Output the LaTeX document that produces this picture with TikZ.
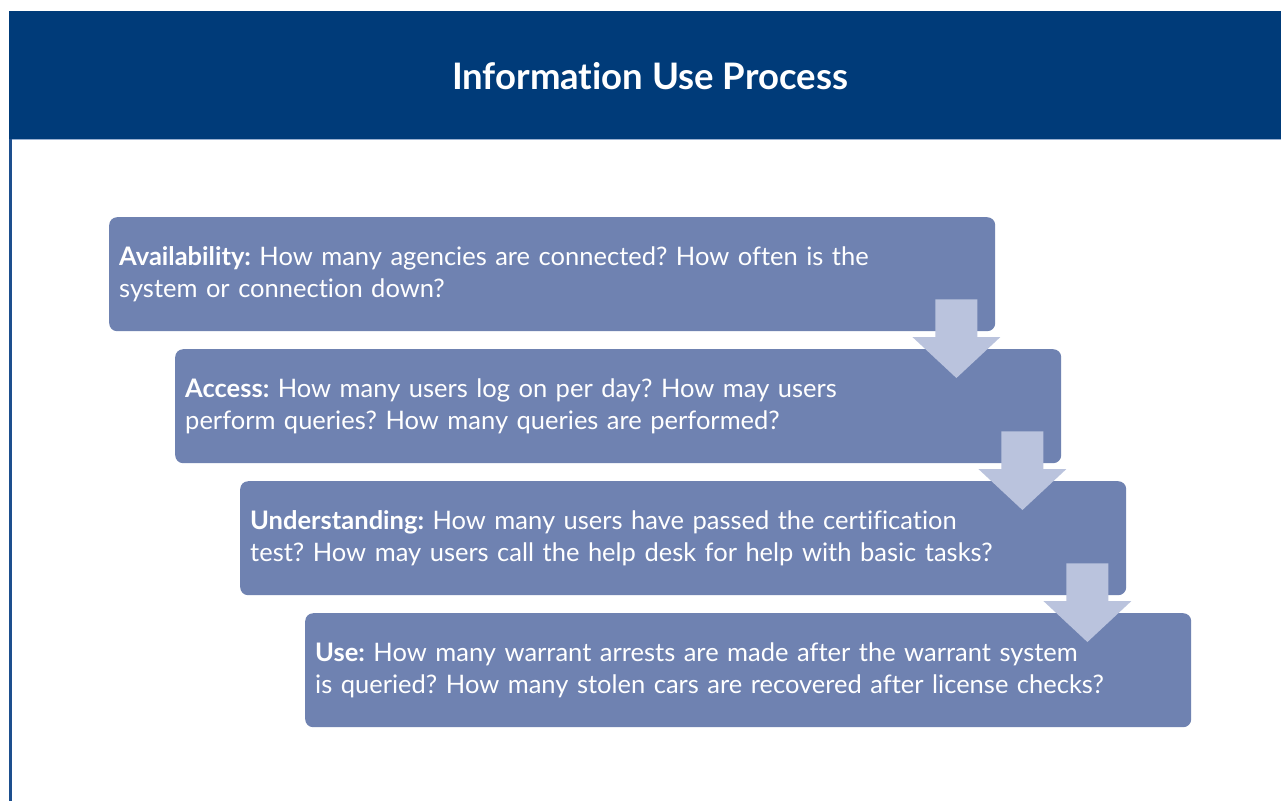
\documentclass[tikz,border=0pt]{standalone}
\usepackage{fontspec}
\setmainfont{Lato}[Ligatures=NoCommon]
\usetikzlibrary{calc}
\frenchspacing
\definecolor{headblue}{HTML}{003B79}
\definecolor{edgeblue}{HTML}{1D4F8E}
\definecolor{rulelight}{HTML}{9AB0D0}
\definecolor{boxblue}{HTML}{6F82B1}
\definecolor{arrowblue}{HTML}{BAC3DD}
\tikzset{
  stagebox/.style={fill=boxblue, rounded corners=8pt, minimum width=886pt,
    minimum height=114pt, text width=866pt, inner xsep=10pt, inner ysep=0pt,
    align=left, text=white, anchor=north west,
    font=\fontsize{25.5pt}{32pt}\selectfont},
  flowarrow/.style={fill=arrowblue, draw=none},
}
% block arrow hanging from the lower right part of one box into the next
\newcommand{\stagearrow}[2]{%
  \path let \p1=($(#1.south east)$), \p2=($(#2.north east)$) in
    coordinate (t) at (\x1-39pt,\y1+32pt)
    coordinate (h) at (\x1-39pt,\y2+12pt)
    coordinate (p) at (\x1-39pt,\y2-29pt);
  \fill[flowarrow] ($(t)+(-21pt,0)$) -- ($(t)+(21pt,0)$) -- ($(h)+(21pt,0)$)
    -- ($(h)+(44pt,0)$) -- (p) -- ($(h)+(-44pt,0)$) -- ($(h)+(-21pt,0)$) -- cycle;
}
\begin{document}
\begin{tikzpicture}[x=1pt,y=-1pt]
\useasboundingbox (0,0) rectangle (1281,801);
\fill[white] (0,0) rectangle (1281,801);
% header band and frame
\fill[headblue] (9,11) rectangle (1281,139);
\fill[edgeblue] (9,139) rectangle (11.5,801);
\draw[rulelight, line width=1pt] (11.5,139.5) -- (1281,139.5);
\node[text=white, font=\fontsize{36.5pt}{40pt}\selectfont\bfseries] (title) at (650,76) {Information Use Process};
% the four stages
\node[stagebox] (b1) at (109,217) {\textbf{Availability:} How many agencies are connected? How often is the\\system or connection down?};
\node[stagebox] (b2) at (175,349) {\textbf{Access:} How many users log on per day? How may users\\perform queries? How many queries are performed?};
\node[stagebox] (b3) at (240,481) {\textbf{Understanding:} How many users have passed the certification\\test? How may users call the help desk for help with basic tasks?};
\node[stagebox] (b4) at (305,613) {\textbf{Use:} How many warrant arrests are made after the warrant system\\is queried? How many stolen cars are recovered after license checks?};
% arrows between stages
\stagearrow{b1}{b2}
\stagearrow{b2}{b3}
\stagearrow{b3}{b4}
\end{tikzpicture}
\end{document}
